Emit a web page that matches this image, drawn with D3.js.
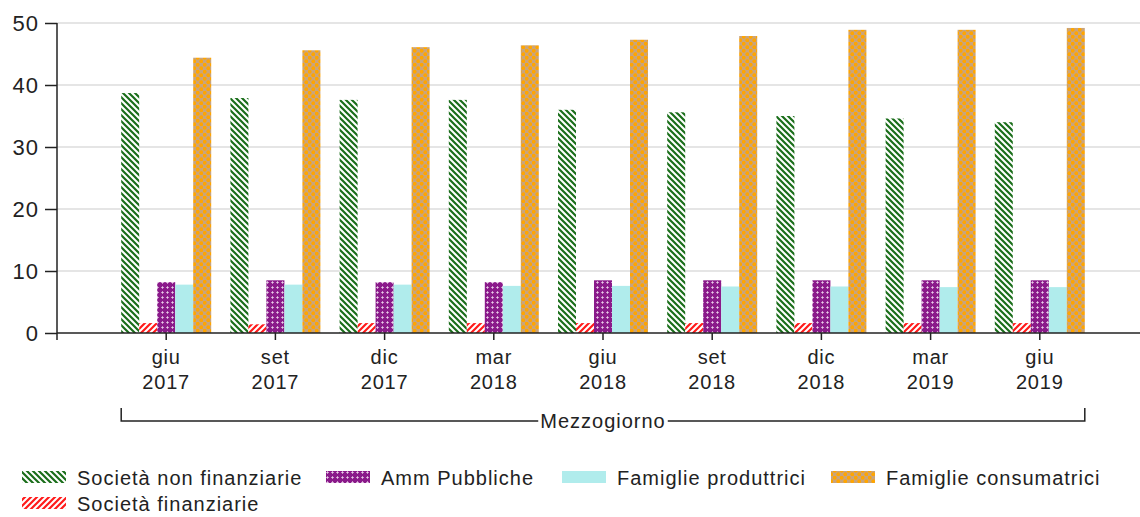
<!DOCTYPE html>
<html><head><meta charset="utf-8">
<script src="https://cdn.jsdelivr.net/npm/d3@7"></script>
<style>body{margin:0;background:#fff;}svg{display:block;font-family:"Liberation Sans",Arial,sans-serif;}</style>
</head><body><svg id="c" width="1140" height="517"></svg>
<script>
const months = ["giu","set","dic","mar","giu","set","dic","mar","giu"];
const years = ["2017","2017","2017","2018","2018","2018","2018","2019","2019"];
const groupLabel = "Mezzogiorno";
const seriesNames = ["Società non finanziarie","Società finanziarie","Amm Pubbliche","Famiglie produttrici","Famiglie consumatrici"];
const socNonFin = [38.7, 37.9, 37.6, 37.6, 36.0, 35.6, 35.0, 34.6, 34.0];
const socFin = [1.6, 1.4, 1.6, 1.6, 1.6, 1.6, 1.6, 1.6, 1.6];
const ammPub = [8.2, 8.5, 8.2, 8.2, 8.5, 8.5, 8.5, 8.5, 8.5];
const famProd = [7.8, 7.8, 7.8, 7.6, 7.6, 7.5, 7.5, 7.4, 7.4];
const famCons = [44.4, 45.6, 46.1, 46.4, 47.3, 47.9, 48.9, 48.9, 49.2];
const yTicks = [0,10,20,30,40,50];

const series = [socNonFin, socFin, ammPub, famProd, famCons];
const fills = ["url(#pGreen)","url(#pRed)","url(#pPurple)","#b0ecec","url(#pOrange)"];
const cats = months.map((m,i)=>i);

const svg = d3.select("#c");
const defs = svg.append("defs");
let p = defs.append("pattern").attr("id","pGreen").attr("patternUnits","userSpaceOnUse").attr("width",6).attr("height",6);
p.append("rect").attr("width",6).attr("height",6).attr("fill","#fff");
p.append("path").attr("d","M-1,-1 L7,7 M-4,2 L2,8 M2,-4 L8,2").attr("stroke","#1a6e1a").attr("stroke-width",2.2);
p = defs.append("pattern").attr("id","pRed").attr("patternUnits","userSpaceOnUse").attr("width",6).attr("height",6);
p.append("rect").attr("width",6).attr("height",6).attr("fill","#fff");
p.append("path").attr("d","M-1,7 L7,-1 M-4,4 L2,-2 M2,10 L8,4").attr("stroke","#ff1a1a").attr("stroke-width",2.2);
p = defs.append("pattern").attr("id","pPurple").attr("patternUnits","userSpaceOnUse").attr("width",5).attr("height",5);
p.append("rect").attr("width",5).attr("height",5).attr("fill","#8a1a8a");
p.append("path").attr("d","M2.5,1.3 v2.4 M1.3,2.5 h2.4").attr("stroke","#e8cce8").attr("stroke-width",1);
p = defs.append("pattern").attr("id","pOrange").attr("patternUnits","userSpaceOnUse").attr("width",7).attr("height",7);
p.append("rect").attr("width",7).attr("height",7).attr("fill","#c9a47c");
p.append("circle").attr("cx",1.75).attr("cy",1.75).attr("r",1.9).attr("fill","#ffa500");
p.append("circle").attr("cx",5.25).attr("cy",5.25).attr("r",1.9).attr("fill","#ffa500");

const mLeft = 57, mRight = 1149, mTop = 23, mBottom = 333;
const x = d3.scaleBand().domain(cats).range([mLeft, mRight]).paddingInner(0).paddingOuter(0.5);
const y = d3.scaleLinear().domain([0,50]).range([mBottom, mTop]);
const barW = 18;
const xs = d3.scaleBand().domain(d3.range(series.length)).range([-barW*2.5, barW*2.5]);

svg.append("g").selectAll("line").data(yTicks.filter(d=>d>0)).join("line")
  .attr("x1",mLeft).attr("x2",1140).attr("y1",d=>y(d)).attr("y2",d=>y(d))
  .attr("stroke","#dcdcdc").attr("stroke-width",1.5);

series.forEach((vals, si)=>{
  svg.append("g").selectAll("rect").data(vals).join("rect")
    .attr("x",(d,i)=>x(i)+x.bandwidth()/2+xs(si))
    .attr("width",xs.bandwidth())
    .attr("y",d=>y(d)).attr("height",d=>y(0)-y(d))
    .attr("fill",fills[si]);
});

const yAxis = svg.append("g").attr("transform",`translate(${mLeft},0)`)
  .call(d3.axisLeft(y).tickValues(yTicks).tickSize(12).tickPadding(6).tickFormat(d3.format("d")));
yAxis.select(".domain").attr("d",`M0,${mTop}V${mBottom+7}`).attr("stroke","#222").attr("stroke-width",1.5);
yAxis.selectAll(".tick line").attr("stroke","#222").attr("stroke-width",1.5);
yAxis.selectAll(".tick text").attr("font-size",22).attr("letter-spacing",1).attr("fill","#222").attr("font-family","Liberation Sans, Arial, sans-serif");

const xAxis = svg.append("g").attr("transform",`translate(0,${mBottom})`)
  .call(d3.axisBottom(x).tickSize(7).tickFormat(""));
xAxis.select(".domain").attr("d",`M${mLeft},0H1140`).attr("stroke","#222").attr("stroke-width",1.5);
xAxis.selectAll(".tick line").attr("stroke","#222").attr("stroke-width",1.5);
const lab = svg.append("g").attr("font-size",20).attr("letter-spacing",0.8).attr("fill","#222").attr("text-anchor","middle");
lab.selectAll("text.m").data(cats).join("text").attr("class","m")
  .attr("x",d=>x(d)+x.bandwidth()/2).attr("y",364).text(d=>months[d]);
lab.selectAll("text.yr").data(cats).join("text").attr("class","yr")
  .attr("x",d=>x(d)+x.bandwidth()/2).attr("y",389).text(d=>years[d]);

const bx1 = x(0)+x.bandwidth()/2+xs(0), bx2 = x(cats.length-1)+x.bandwidth()/2+xs(series.length-1)+xs.bandwidth();
const by = 421, mid = (bx1+bx2)/2;
const gt = svg.append("text").attr("x",mid).attr("y",by+7).attr("text-anchor","middle")
  .attr("font-size",20).attr("letter-spacing",1).attr("fill","#222").text(groupLabel);
const tw = gt.node().getComputedTextLength();
svg.append("path").attr("d",`M${bx1},${by-13}V${by}H${mid-tw/2-2} M${mid+tw/2+2},${by}H${bx2}V${by-13}`)
  .attr("fill","none").attr("stroke","#222").attr("stroke-width",1.5);

const legendItems = [
  {s:0, x:22, y:471}, {s:2, x:326, y:471}, {s:3, x:562, y:471}, {s:4, x:831, y:471}, {s:1, x:22, y:497}
];
const lg = svg.append("g");
legendItems.forEach(it=>{
  lg.append("rect").attr("x",it.x).attr("y",it.y).attr("width",44).attr("height",12).attr("fill",fills[it.s]);
  lg.append("text").attr("x",it.x+55).attr("y",it.y+14).attr("font-size",20).attr("letter-spacing",1).attr("fill","#222").text(seriesNames[it.s]);
});
</script></body></html>
